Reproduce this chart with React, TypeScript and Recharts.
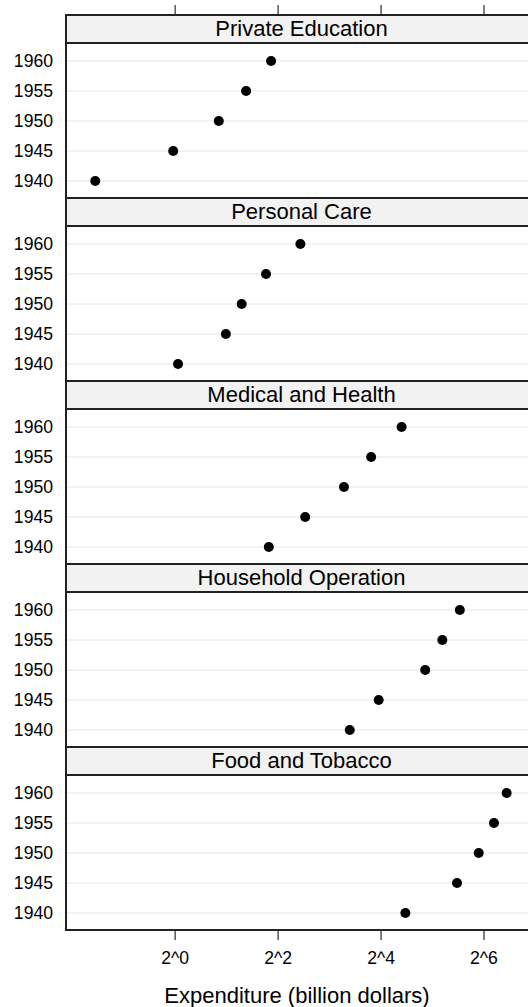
import { CartesianGrid, Scatter, ScatterChart, XAxis, YAxis } from "recharts";

// US personal expenditure, billion dollars
const years = [1940, 1945, 1950, 1955, 1960];
const categories = [
  "Private Education",
  "Personal Care",
  "Medical and Health",
  "Household Operation",
  "Food and Tobacco",
];
const privateEducation = [0.341, 0.974, 1.8, 2.6, 3.64];
const personalCare = [1.04, 1.98, 2.45, 3.4, 5.4];
const medicalHealth = [3.53, 5.76, 9.71, 14.0, 21.1];
const householdOperation = [10.5, 15.5, 29.0, 36.5, 46.2];
const foodTobacco = [22.2, 44.5, 59.6, 73.2, 86.8];
const xTicks = [0, 2, 4, 6];

const seriesValues = [privateEducation, personalCare, medicalHealth, householdOperation, foodTobacco];

const font = "'Liberation Sans', Arial, Helvetica, sans-serif";
const W = 536;
const xDomain = [-2.12, 7.01];
const yDomain = [1937.167, 1963];
const PANEL = 183;
const BODY = 155;

const panelData = (vals: number[]) =>
  years.map((year, i) => ({ year, value: vals[i], x: Math.log2(vals[i]) }));

const Dot = (props: any) => <circle cx={props.cx} cy={props.cy} r={5} fill="#000" />;

function Panel({ idx }: { idx: number }) {
  const last = idx === categories.length - 1;
  return (
    <div style={{ position: "absolute", left: 0, top: 43 + idx * PANEL }}>
      <ScatterChart width={W} height={last ? BODY + 77 : BODY} margin={{ top: 0, right: 0, bottom: 0, left: 0 }}>
        <CartesianGrid vertical={false} stroke="#e6e6e6" />
        <XAxis
          type="number"
          dataKey="x"
          domain={xDomain}
          allowDataOverflow
          hide={!last}
          ticks={xTicks}
          tickFormatter={(v) => `2^${v}`}
          height={77}
          axisLine={false}
          tickSize={10}
          tickMargin={12}
          tickLine={{ stroke: "#000" }}
          tick={{ fontSize: 17.6, fill: "#000", fontFamily: font }}
          label={{
            value: "Expenditure (billion dollars)",
            position: "insideBottom",
            offset: 4,
            dx: -4,
            fontSize: 22,
            fill: "#000",
            fontFamily: font,
          }}
        />
        <YAxis
          type="number"
          dataKey="year"
          domain={yDomain}
          allowDataOverflow
          ticks={years}
          width={66}
          axisLine={false}
          tickLine={false}
          tickSize={0}
          tickMargin={13}
          tick={{ fontSize: 17.6, fill: "#000", fontFamily: font }}
        />
        <Scatter data={panelData(seriesValues[idx])} shape={Dot} isAnimationActive={false} />
      </ScatterChart>
    </div>
  );
}

export default function App() {
  return (
    <div
      style={{
        position: "absolute",
        left: 0,
        top: 0,
        width: 528,
        height: 1007,
        overflow: "hidden",
        background: "#fff",
        fontFamily: font,
      }}
    >
      {/* top ticks, no labels (plot area hidden under first strip) */}
      <div style={{ position: "absolute", left: 0, top: 0 }}>
        <ScatterChart width={W} height={43} margin={{ top: 0, right: 0, bottom: 0, left: 66 }}>
          <XAxis
            type="number"
            dataKey="x"
            orientation="top"
            domain={xDomain}
            allowDataOverflow
            ticks={xTicks}
            height={15}
            axisLine={false}
            tickSize={10}
            tickLine={{ stroke: "#000" }}
            tickFormatter={() => ""}
          />
          <YAxis type="number" dataKey="year" hide domain={yDomain} />
          <Scatter data={panelData(privateEducation)} shape={() => null} isAnimationActive={false} />
        </ScatterChart>
      </div>

      {categories.map((_, i) => (
        <Panel key={i} idx={i} />
      ))}

      {categories.map((name, i) => (
        <div
          key={name}
          style={{
            position: "absolute",
            left: 65,
            top: 14 + i * PANEL,
            width: W - 65 + 2,
            height: 30,
            boxSizing: "border-box",
            borderTop: "2px solid #222",
            borderBottom: "2px solid #222",
            background: "#f2f2f2",
            display: "flex",
            alignItems: "center",
            justifyContent: "center",
            fontSize: 22,
            color: "#000",
          }}
        >
          {name}
        </div>
      ))}

      {/* panel frame */}
      <div
        style={{
          position: "absolute",
          left: 65,
          top: 14,
          width: W - 65 + 2,
          height: 917,
          boxSizing: "border-box",
          border: "2px solid #222",
        }}
      />
    </div>
  );
}
